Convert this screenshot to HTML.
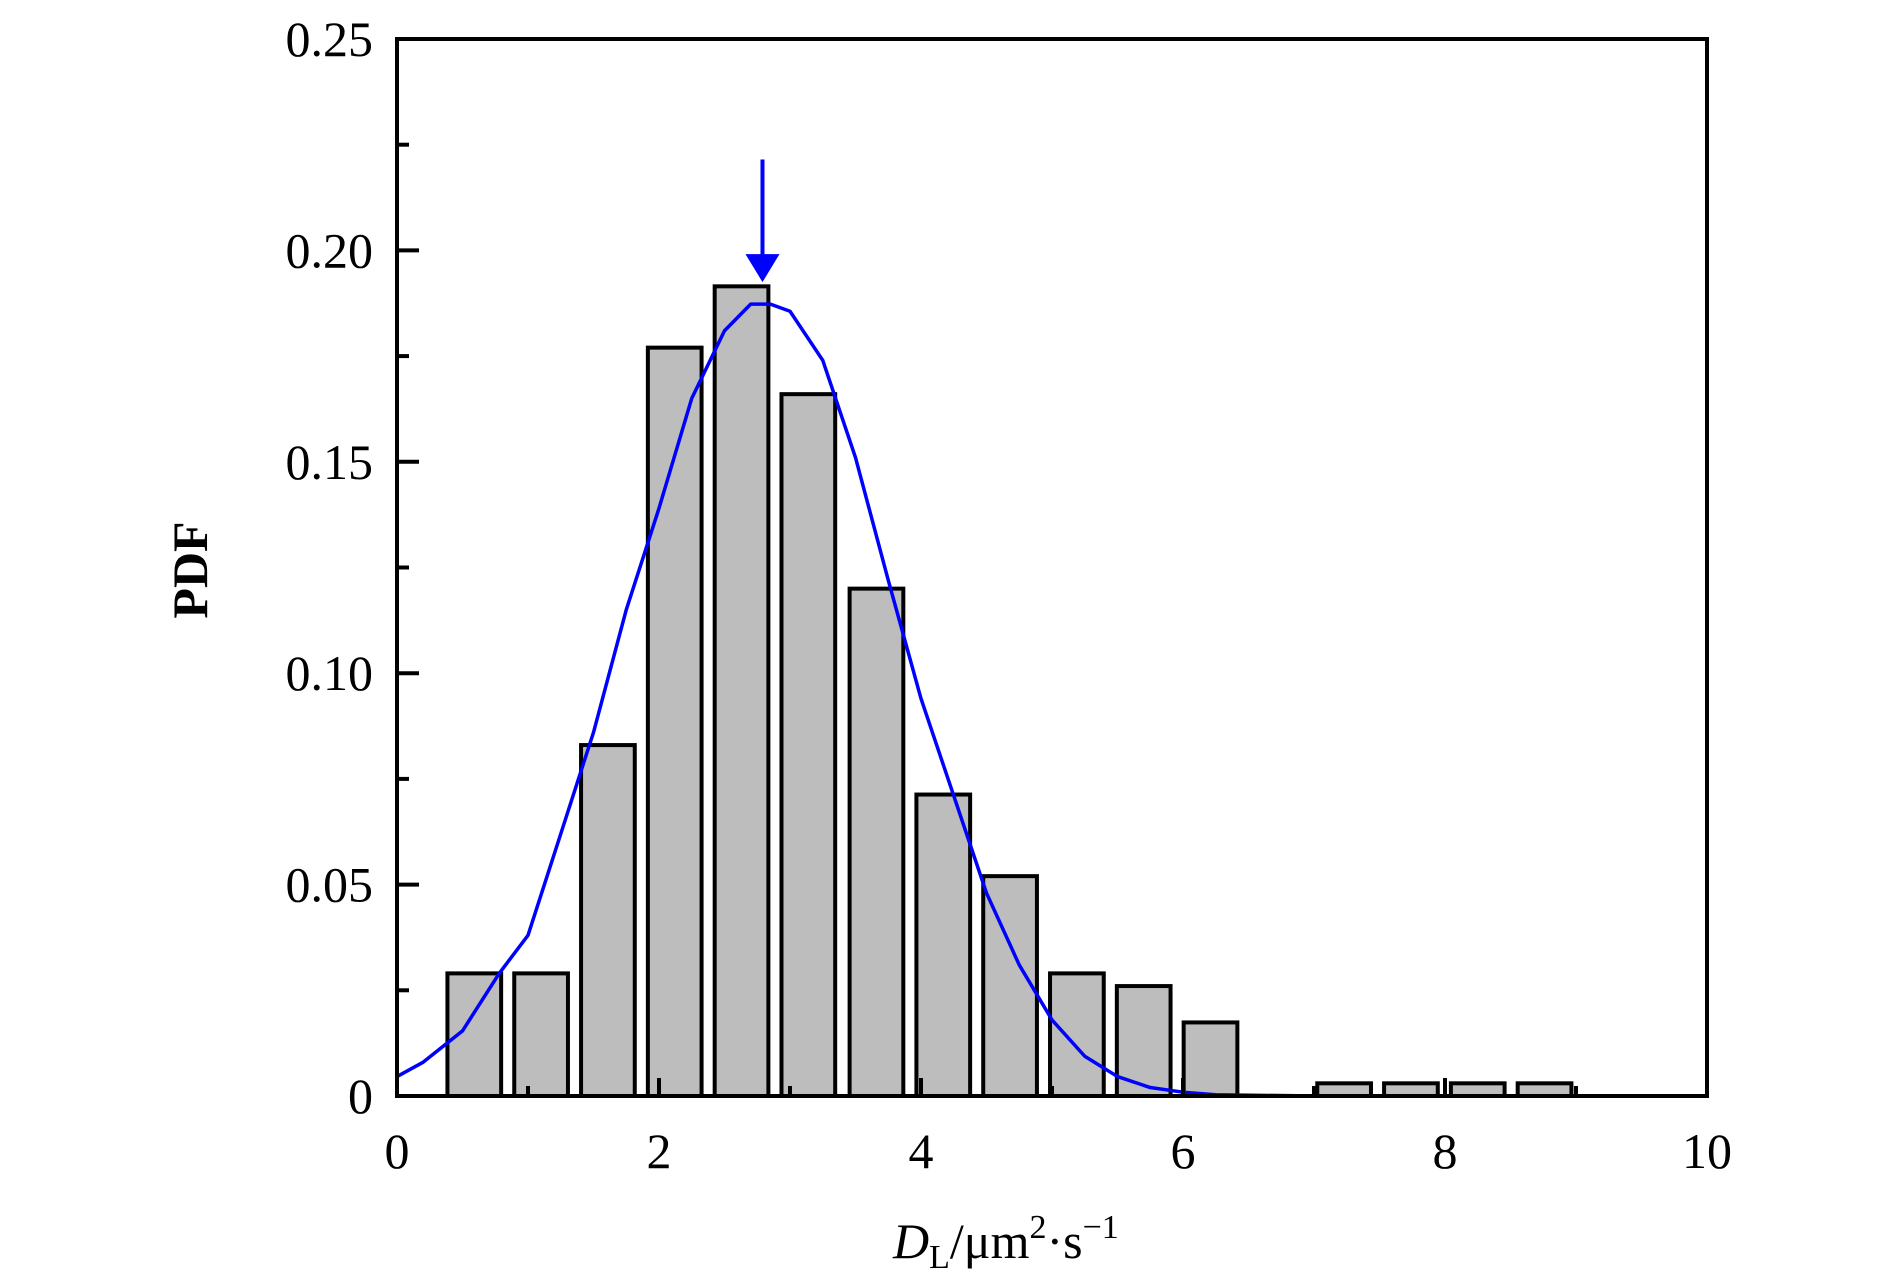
<!DOCTYPE html>
<html><head><meta charset="utf-8"><style>
html,body{margin:0;padding:0;background:#fff;}
svg{display:block;}
text{font-family:"Liberation Serif","DejaVu Serif",serif;fill:#000;}
</style></head><body>
<svg id="chart" width="1890" height="1276" viewBox="0 0 1890 1276" xmlns="http://www.w3.org/2000/svg">
<g id="bars"></g>
<g id="curve"></g>
<g id="axes"></g>
<text transform="translate(207,570) rotate(-90)" text-anchor="middle" font-size="50" font-weight="bold">PDF</text>
<text x="893" y="1258" font-size="50"><tspan font-style="italic">D</tspan><tspan font-size="34" dy="10">L</tspan><tspan dy="-10">/μm</tspan><tspan font-size="34" dy="-20">2</tspan><tspan dy="20">·s</tspan><tspan font-size="34" dy="-20">−1</tspan></text>
</svg>
<script>
const binCenters=[0.59,1.10,1.61,2.12,2.63,3.14,3.66,4.17,4.68,5.19,5.70,6.21,6.72,7.23,7.74,8.25,8.76];
const binValues=[0.029,0.029,0.083,0.177,0.1915,0.166,0.120,0.0713,0.052,0.029,0.026,0.0174,0,0.003,0.003,0.003,0.003];
const binWidth=0.41;
const curveX=[0,0.2,0.5,0.78,1.0,1.25,1.5,1.75,2.0,2.25,2.5,2.7,2.85,3.0,3.25,3.5,3.75,4.0,4.25,4.5,4.75,5.0,5.25,5.5,5.75,6.0,6.25,7.0];
const curveY=[0.0046,0.008,0.0154,0.029,0.038,0.062,0.086,0.115,0.139,0.165,0.181,0.1873,0.1873,0.1856,0.174,0.151,0.122,0.094,0.071,0.048,0.031,0.018,0.0094,0.0046,0.002,0.0009,0.0003,0];
const xTicks=[0,2,4,6,8,10];
const xTickLabels=["0","2","4","6","8","10"];
const yTicks=[0,0.05,0.10,0.15,0.20,0.25];
const yTickLabels=["0","0.05","0.10","0.15","0.20","0.25"];
const arrowX=2.79, arrowTop=0.2215, arrowTip=0.1925;

const X0=397,X1=1707,Y0=1096,Y1=39;
const sx=v=>X0+(X1-X0)*v/10;
const sy=v=>Y0-(Y0-Y1)*v/0.25;
const NS="http://www.w3.org/2000/svg";
function mk(tag,parent,attrs){const e=document.createElementNS(NS,tag);for(const k in attrs)e.setAttribute(k,attrs[k]);parent.appendChild(e);return e;}

const bars=document.getElementById('bars');
binCenters.forEach((c,i)=>{
  if(binValues[i]<=0)return;
  const r=mk('rect',bars,{x:sx(c-binWidth/2),y:sy(binValues[i]),width:sx(binWidth)-sx(0),height:sy(0)-sy(binValues[i]),fill:'#bdbdbd',stroke:'#000','stroke-width':4});
  
  
});

const cg=document.getElementById('curve');
const path=mk('polyline',cg,{points:curveX.map((x,i)=>sx(x)+','+sy(curveY[i])).join(' ')+' '+sx(7)+','+sy(0),fill:'none',stroke:'#0000ff','stroke-width':3.5,'stroke-linejoin':'round'});


const ax=sx(arrowX);
const al=mk('line',cg,{x1:ax,y1:sy(arrowTop),x2:ax,y2:sy(arrowTip)-20,stroke:'#0000ff','stroke-width':4});


const ah=mk('polygon',cg,{points:(ax-17)+','+(sy(arrowTip)-28)+' '+(ax+17)+','+(sy(arrowTip)-28)+' '+ax+','+sy(arrowTip),fill:'#0000ff'});



const axes=document.getElementById('axes');
const frame=mk('rect',axes,{x:X0,y:Y1,width:X1-X0,height:Y0-Y1,fill:'none',stroke:'#000','stroke-width':4});


yTicks.forEach((v,i)=>{
  const t=mk('line',axes,{x1:X0,x2:X0+22,y1:sy(v),y2:sy(v),stroke:'#000','stroke-width':4});
  
  
  if(i<yTicks.length-1){
    const m=mk('line',axes,{x1:X0,x2:X0+12,y1:sy(v+0.025),y2:sy(v+0.025),stroke:'#000','stroke-width':4});
    
    
  }
  const l=mk('text',axes,{x:373,y:sy(v)+17,'text-anchor':'end','font-size':50});
  l.textContent=yTickLabels[i];
  
  
});
xTicks.forEach((v,i)=>{
  const t=mk('line',axes,{x1:sx(v),x2:sx(v),y1:Y0,y2:Y0-18,stroke:'#000','stroke-width':4});
  
  
  if(i<xTicks.length-1){
    const m=mk('line',axes,{x1:sx(v+1),x2:sx(v+1),y1:Y0,y2:Y0-10,stroke:'#000','stroke-width':4});
    
    
  }
  const l=mk('text',axes,{x:sx(v),y:1168,'text-anchor':'middle','font-size':50});
  l.textContent=xTickLabels[i];
  
  
});
</script>
</body></html>
